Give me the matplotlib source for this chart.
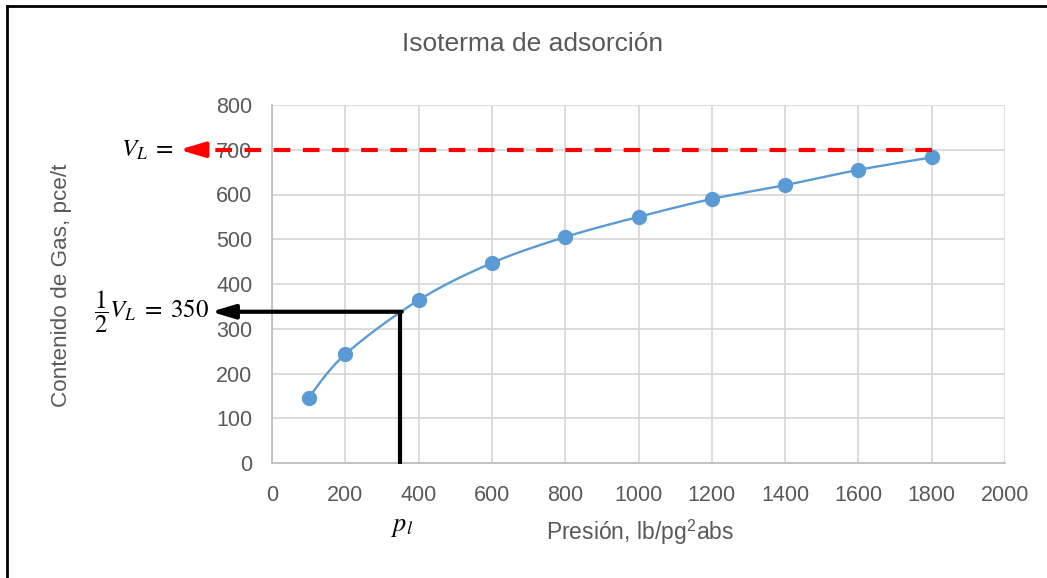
import numpy as np
import matplotlib
matplotlib.use("Agg")
import matplotlib.pyplot as plt
from matplotlib.lines import Line2D

# ---- data ----
presion = [100, 200, 400, 600, 800, 1000, 1200, 1400, 1600, 1800]
contenido = [146, 243, 364, 447, 505, 550, 590, 621, 655, 683]
VL = 700
pl = 350
half_VL_level = 338
xticks = [0, 200, 400, 600, 800, 1000, 1200, 1400, 1600, 1800, 2000]
yticks = [0, 100, 200, 300, 400, 500, 600, 700, 800]

W, H = 1047, 578
plt.rcParams['font.family'] = ['Liberation Sans', 'DejaVu Sans']
plt.rcParams['mathtext.fontset'] = 'stix'

fig = plt.figure(figsize=(W / 100, H / 100), dpi=100)
ax = fig.add_axes([272 / W, 1 - 463 / H, (1005 - 272) / W, (463 - 105) / H])

gray_txt = '#595959'
grid_c = '#d9d9d9'
blue = '#5b9bd5'


def catmull_rom(xs, ys, n=30):
    pts = np.column_stack([xs, ys]).astype(float)
    P = np.vstack([pts[0], pts, pts[-1]])
    out = []
    for i in range(1, len(P) - 2):
        p0, p1, p2, p3 = P[i - 1], P[i], P[i + 1], P[i + 2]
        c1 = p1 + (p2 - p0) / 6.0
        c2 = p2 - (p3 - p1) / 6.0
        t = np.linspace(0, 1, n)[:, None]
        seg = ((1 - t) ** 3) * p1 + 3 * ((1 - t) ** 2) * t * c1 + 3 * (1 - t) * t ** 2 * c2 + t ** 3 * p2
        out.append(seg if i == 1 else seg[1:])
    s = np.vstack(out)
    return s[:, 0], s[:, 1]


sx, sy = catmull_rom(presion, contenido)
ax.plot(sx, sy, color=blue, lw=1.7, zorder=3)
ax.plot(presion, contenido, 'o', color=blue, ms=10, zorder=4)

ax.set_xlim(0, 2000)
ax.set_ylim(0, 800)
ax.set_xticks(xticks)
ax.set_yticks(yticks)
ax.grid(True, color=grid_c, lw=1.3)
ax.set_axisbelow(True)
for s in ['top', 'right']:
    ax.spines[s].set_visible(False)
for s in ['left', 'bottom']:
    ax.spines[s].set_color('#bfbfbf')
    ax.spines[s].set_linewidth(1.3)
ax.tick_params(length=0, labelsize=15.5, labelcolor=gray_txt)
ax.tick_params(axis='x', pad=16)
ax.tick_params(axis='y', pad=14)

# red dashed V_L line with arrow
ax.plot([1800, -196], [VL, VL], color='red', lw=3, linestyle=(0, (4, 3)),
        clip_on=False, zorder=5)
ax.annotate('', xy=(-253, VL), xytext=(-190, VL),
            arrowprops=dict(arrowstyle='-|>,head_length=1.5,head_width=0.45',
                            color='red', lw=3, shrinkA=0, shrinkB=0),
            annotation_clip=False, zorder=6)

# black arrow for 1/2 V_L
ax.plot([pl, pl], [-2, half_VL_level], color='black', lw=3, clip_on=False,
        zorder=5, solid_capstyle='butt')
ax.annotate('', xy=(-166, half_VL_level), xytext=(pl + 4, half_VL_level),
            arrowprops=dict(arrowstyle='-|>,head_length=1.4,head_width=0.42',
                            color='black', lw=3, shrinkA=0, shrinkB=0),
            annotation_clip=False, zorder=6)


def ftext(px, py, s, **kw):
    fig.text(px / W, 1 - py / H, s, **kw)


ftext(533, 44, 'Isoterma de adsorción', ha='center', va='center',
      fontsize=19, color=gray_txt)
ftext(640, 532, r'Presión, lb/pg$^{\mathregular{2}}$abs', ha='center', va='center',
      fontsize=16.5, color=gray_txt)
ftext(62, 285, 'Contenido de Gas, pce/t', ha='center', va='center',
      fontsize=16.2, color=gray_txt, rotation=90)

ftext(174, 150, r'$V_L\;=$', ha='right', va='center', fontsize=18, color='black')
ftext(209, 312, r'$\dfrac{1}{2}V_L\;=\;350$', ha='right', va='center', fontsize=18,
      color='black')
ftext(402, 527, r'$p_l$', ha='center', va='center', fontsize=19, color='black')

# figure border (left & top)
fig.add_artist(Line2D([7 / W, 7 / W], [0, 1 - 6 / H], transform=fig.transFigure,
                      color='black', lw=2))
fig.add_artist(Line2D([7 / W, 1], [1 - 6 / H, 1 - 6 / H], transform=fig.transFigure,
                      color='black', lw=2))

fig.savefig('out.png', dpi=100)
